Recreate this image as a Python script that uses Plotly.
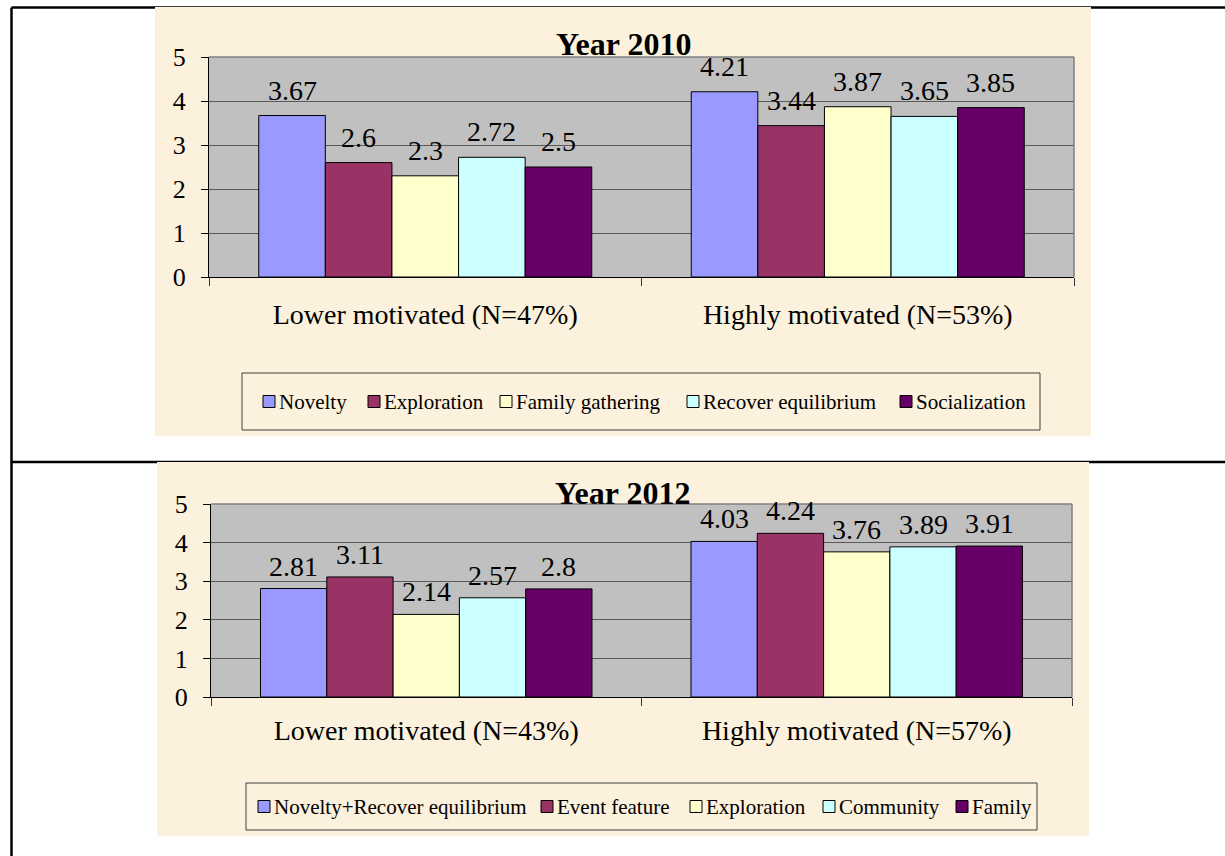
import plotly.graph_objects as go

# ---------------- data ----------------
cats_2010 = ["Lower motivated (N=47%)", "Highly motivated (N=53%)"]
series_2010 = ["Novelty", "Exploration", "Family gathering", "Recover equilibrium", "Socialization"]
values_2010 = [
    [3.67, 4.21],
    [2.6, 3.44],
    [2.3, 3.87],
    [2.72, 3.65],
    [2.5, 3.85],
]

cats_2012 = ["Lower motivated (N=43%)", "Highly motivated (N=57%)"]
series_2012 = ["Novelty+Recover equilibrium", "Event feature", "Exploration", "Community", "Family"]
values_2012 = [
    [2.81, 4.03],
    [3.11, 4.24],
    [2.14, 3.76],
    [2.57, 3.89],
    [2.8, 3.91],
]

colors = ["#9999FF", "#993366", "#FFFFCC", "#CCFFFF", "#660066"]
yticks = [0, 1, 2, 3, 4, 5]

FONT = "Times New Roman, Liberation Serif, serif"
W, H = 1225, 856
BARGAP = 0.23


def px_x(p):
    return p / W


def px_y(p):
    return 1 - p / H


fig = go.Figure()

panels = [
    dict(cats=cats_2010, names=series_2010, vals=values_2010, title="Year 2010",
         xa="x", ya="y", dom_x=[209, 1074], dom_y=[57, 277],
         bg=[155, 7, 1091, 436], title_xy=(623, 44), yshift=8,
         leg_box=[242, 373, 1040, 430], leg_y=401.5,
         leg_sym_x=[263, 368, 500, 687, 900]),
    dict(cats=cats_2012, names=series_2012, vals=values_2012, title="Year 2012",
         xa="x2", ya="y2", dom_x=[211, 1072], dom_y=[504, 697],
         bg=[157, 462, 1089, 836], title_xy=(622, 493), yshift=5,
         leg_box=[246, 783, 1037, 830], leg_y=806.5,
         leg_sym_x=[258, 541, 690, 823, 956]),
]

shapes = []
annotations = []

# table lines (drawn first, beige panels cover them)
for (x0, y0, x1, y1) in [(11.5, 7.5, W, 7.5), (11.5, 7.5, 11.5, H), (11.5, 462, W, 462)]:
    shapes.append(dict(type="line", xref="paper", yref="paper", layer="below",
                       x0=px_x(x0), y0=px_y(y0), x1=px_x(x1), y1=px_y(y1),
                       line=dict(color="black", width=2.5)))

for p in panels:
    n = len(p["names"])
    for i, (name, vals) in enumerate(zip(p["names"], p["vals"])):
        fig.add_trace(go.Bar(
            x=p["cats"], y=vals, name=name, xaxis=p["xa"], yaxis=p["ya"],
            marker=dict(color=colors[i], line=dict(color="black", width=1)),
            showlegend=False, hoverinfo="x+y+name",
        ))
        for ci, v in enumerate(vals):
            annotations.append(dict(
                x=ci + (i - (n - 1) / 2) * (1 - BARGAP) / n, y=v,
                xref=p["xa"], yref=p["ya"], text=str(v), showarrow=False,
                yanchor="bottom", xanchor="center", yshift=p["yshift"],
                font=dict(family=FONT, size=28, color="black"),
            ))
    bx0, by0, bx1, by1 = p["bg"]
    shapes.append(dict(type="rect", xref="paper", yref="paper", layer="below",
                       x0=px_x(bx0), y0=px_y(by1), x1=px_x(bx1), y1=px_y(by0),
                       fillcolor="#FBF1DC", line=dict(width=0)))
    # gray plot area
    shapes.append(dict(type="rect", xref=p["xa"] + " domain", yref=p["ya"] + " domain",
                       layer="below", x0=0, y0=0, x1=1, y1=1,
                       fillcolor="#C0C0C0", line=dict(width=0)))
    # top and right border of plot area
    shapes.append(dict(type="line", xref=p["xa"] + " domain", yref=p["ya"] + " domain",
                       layer="above", x0=0, y0=1, x1=1, y1=1,
                       line=dict(color="#808080", width=1.5)))
    shapes.append(dict(type="line", xref=p["xa"] + " domain", yref=p["ya"] + " domain",
                       layer="above", x0=1, y0=0, x1=1, y1=1,
                       line=dict(color="#808080", width=1.5)))
    # legend frame
    lx0, ly0, lx1, ly1 = p["leg_box"]
    shapes.append(dict(type="rect", xref="paper", yref="paper", layer="below",
                       x0=px_x(lx0), y0=px_y(ly1), x1=px_x(lx1), y1=px_y(ly0),
                       fillcolor="rgba(0,0,0,0)", line=dict(color="#404040", width=1)))
    # legend entries
    ly = p["leg_y"]
    for i, (name, sx) in enumerate(zip(p["names"], p["leg_sym_x"])):
        shapes.append(dict(type="rect", xref="paper", yref="paper", layer="above",
                           x0=px_x(sx), x1=px_x(sx + 12), y0=px_y(ly + 6), y1=px_y(ly - 6),
                           fillcolor=colors[i], line=dict(color="black", width=1)))
        annotations.append(dict(
            x=px_x(sx + 14), y=px_y(ly), xref="paper", yref="paper", text=name,
            showarrow=False, xanchor="left", yanchor="middle",
            font=dict(family=FONT, size=21, color="black"),
        ))
    tx, ty = p["title_xy"]
    annotations.append(dict(
        x=px_x(tx), y=px_y(ty),
        xref="paper", yref="paper", text="<b>" + p["title"] + "</b>", showarrow=False,
        xanchor="center", yanchor="middle",
        font=dict(family=FONT, size=32, color="black"),
    ))

axis_common_x = dict(
    type="category", showgrid=False, showline=True, linecolor="black", linewidth=1,
    ticks="outside", tickson="boundaries", ticklen=8, tickcolor="#333333",
    tickfont=dict(family=FONT, size=28, color="black"),
    fixedrange=True, automargin=False,
)
axis_common_y = dict(
    range=[0, 5], tickvals=yticks, showgrid=True, gridcolor="#5a5a5a", gridwidth=1,
    showline=True, linecolor="black", linewidth=1, ticks="outside", ticklen=7,
    tickcolor="black", tickfont=dict(family=FONT, size=26, color="black"),
    ticklabelstandoff=10, zeroline=False, fixedrange=True, automargin=False,
)

p1, p2 = panels
fig.update_layout(
    width=W, height=H,
    margin=dict(l=0, r=0, t=0, b=0, pad=0, autoexpand=False),
    paper_bgcolor="white", plot_bgcolor="rgba(0,0,0,0)",
    barmode="group", bargap=BARGAP, bargroupgap=0,
    showlegend=False,
    xaxis=dict(axis_common_x, ticklabelstandoff=12,
               domain=[px_x(p1["dom_x"][0]), px_x(p1["dom_x"][1])], anchor="y"),
    yaxis=dict(axis_common_y, domain=[px_y(p1["dom_y"][1]), px_y(p1["dom_y"][0])], anchor="x"),
    xaxis2=dict(axis_common_x, ticklabelstandoff=8,
                domain=[px_x(p2["dom_x"][0]), px_x(p2["dom_x"][1])], anchor="y2"),
    yaxis2=dict(axis_common_y, domain=[px_y(p2["dom_y"][1]), px_y(p2["dom_y"][0])], anchor="x2"),
    shapes=shapes, annotations=annotations,
)

fig.write_html(
    "out.html",
    config={"displayModeBar": False},
    post_script="document.body.style.margin='0px';document.body.style.overflow='hidden';",
)
